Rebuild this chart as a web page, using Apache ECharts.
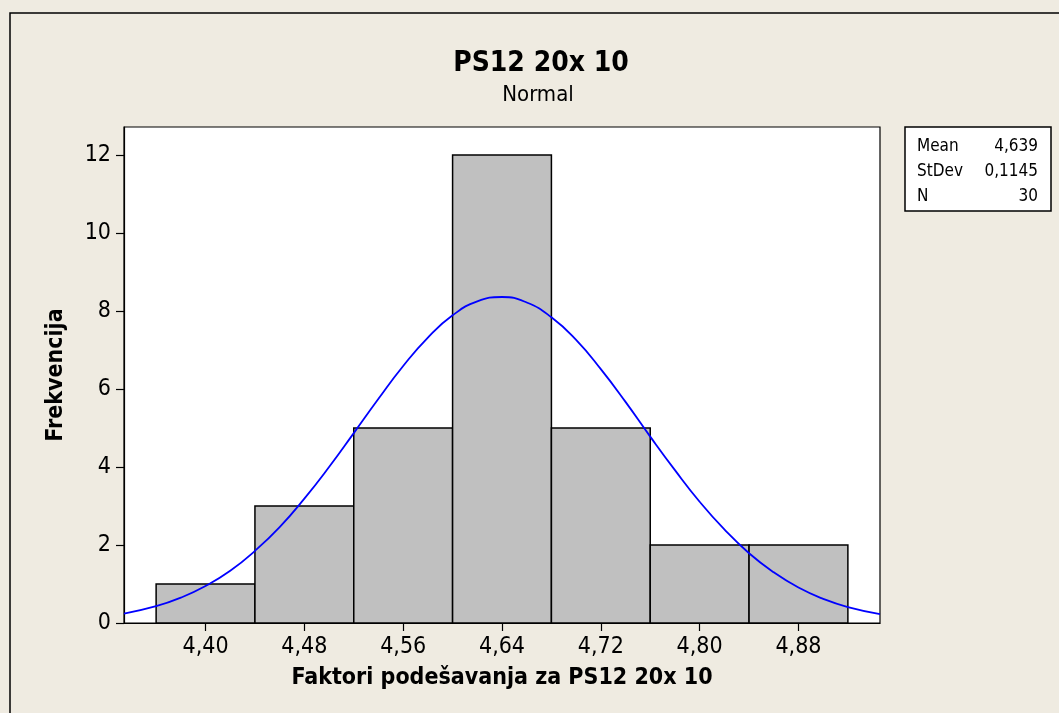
<!DOCTYPE html>
<html>
<head>
<meta charset="utf-8">
<script src="https://cdn.jsdelivr.net/npm/echarts@6/dist/echarts.min.js"></script>
<style>
  html, body { margin: 0; padding: 0; background: #efebe1; }
  #chart { width: 1059px; height: 713px; }
</style>
</head>
<body>
<div id="chart"></div>
<script>
// histogram bins (lower / upper edge) and frequencies
var binStart = [4.36, 4.44, 4.52, 4.60, 4.68, 4.76, 4.84]
var binEnd = [4.44, 4.52, 4.60, 4.68, 4.76, 4.84, 4.92]
var counts = [1, 3, 5, 12, 5, 2, 2]

// fitted normal curve
var curveX = [4.334, 4.36, 4.38, 4.40, 4.42, 4.44, 4.46, 4.48, 4.50, 4.52, 4.54, 4.56, 4.58, 4.60, 4.62, 4.64,
  4.66, 4.68, 4.70, 4.72, 4.74, 4.76, 4.78, 4.80, 4.82, 4.84, 4.86, 4.88, 4.90, 4.92, 4.946]
var curveY = [0.24, 0.43, 0.65, 0.95, 1.34, 1.85, 2.46, 3.19, 4.00, 4.87, 5.75, 6.59, 7.32, 7.89, 8.25, 8.36,
  8.22, 7.84, 7.26, 6.51, 5.67, 4.78, 3.92, 3.11, 2.40, 1.79, 1.30, 0.91, 0.62, 0.41, 0.23]

var xTicks = [4.40, 4.48, 4.56, 4.64, 4.72, 4.80, 4.88]
var yTicks = [0, 2, 4, 6, 8, 10, 12]

var statNames = ['Mean', 'StDev', 'N']
var statValues = ['4,639', '0,1145', '30']

var FONT = "'DejaVu Sans Condensed', 'Liberation Sans'"

var chart = echarts.init(document.getElementById('chart'))

var bars = []
for (var i = 0; i < counts.length; i++) {
  bars.push([binStart[i], binEnd[i], counts[i]])
}
var curve = []
for (var i = 0; i < curveX.length; i++) {
  curve.push([curveX[i], curveY[i]])
}

var statText = []
for (var i = 0; i < statNames.length; i++) {
  statText.push({
    type: 'text', x: 917, y: 147 + i * 25, z: 20,
    style: { text: statNames[i], font: '17px ' + FONT, fill: '#000', textAlign: 'left', align: 'left', textVerticalAlign: 'middle', verticalAlign: 'middle' },
  })
  statText.push({
    type: 'text', x: 1038, y: 147 + i * 25, z: 20,
    style: { text: statValues[i], font: '17px ' + FONT, fill: '#000', textAlign: 'right', align: 'right', textVerticalAlign: 'middle', verticalAlign: 'middle' },
  })
}

var option = {
  backgroundColor: '#efebe1',
  animation: false,
  grid: {
    left: 124,
    right: 179,
    top: 127,
    bottom: 90,
    show: true,
    backgroundColor: '#ffffff',
    borderColor: '#000000',
    borderWidth: 1.2,
  },
  xAxis: {
    type: 'value',
    min: 4.334,
    max: 4.946,
    name: 'Faktori podešavanja za PS12 20x 10',
    nameLocation: 'middle',
    nameGap: 44,
    nameTextStyle: { fontFamily: FONT, fontSize: 23, fontWeight: 'bold', color: '#000' },
    axisLine: { show: true, lineStyle: { color: '#000', width: 1.2 } },
    axisTick: { show: true, length: 8, customValues: xTicks, lineStyle: { color: '#000', width: 1.2 } },
    axisLabel: {
      customValues: xTicks,
      margin: 13,
      fontFamily: FONT,
      fontSize: 23,
      color: '#000',
      formatter: function (v) {
        return v.toFixed(2).replace('.', ',')
      },
    },
    splitLine: { show: false },
  },
  yAxis: {
    type: 'value',
    min: 0,
    max: 12.72,
    name: 'Frekvencija',
    nameLocation: 'middle',
    nameGap: 56,
    nameTextStyle: { fontFamily: FONT, fontSize: 23, fontWeight: 'bold', color: '#000' },
    axisLine: { show: true, lineStyle: { color: '#000', width: 1.2 } },
    axisTick: { show: true, length: 8, customValues: yTicks, lineStyle: { color: '#000', width: 1.2 } },
    axisLabel: {
      customValues: yTicks,
      margin: 13,
      fontFamily: FONT,
      fontSize: 23,
      color: '#000',
    },
    splitLine: { show: false },
  },
  graphic: [
    {
      type: 'rect', z: 10,
      shape: { x: 10, y: 13, width: 1100, height: 800 },
      style: { fill: 'none', stroke: '#000', lineWidth: 1.5 },
    },
    {
      type: 'text', x: 541, y: 64, z: 20,
      style: { text: 'PS12 20x 10', font: 'bold 28px ' + FONT, fill: '#000', textAlign: 'center', align: 'center', textVerticalAlign: 'middle', verticalAlign: 'middle' },
    },
    {
      type: 'text', x: 538, y: 95, z: 20,
      style: { text: 'Normal', font: '22px ' + FONT, fill: '#000', textAlign: 'center', align: 'center', textVerticalAlign: 'middle', verticalAlign: 'middle' },
    },
    {
      type: 'rect', z: 15,
      shape: { x: 905, y: 127, width: 146, height: 84 },
      style: { fill: '#ffffff', stroke: '#000', lineWidth: 1.5 },
    },
  ].concat(statText),
  series: [
    {
      type: 'custom',
      name: 'Frekvencija',
      encode: { x: [0, 1], y: 2 },
      renderItem: function (params, api) {
        var p0 = api.coord([api.value(0), api.value(2)])
        var p1 = api.coord([api.value(1), 0])
        return {
          type: 'rect',
          shape: { x: p0[0], y: p0[1], width: p1[0] - p0[0], height: p1[1] - p0[1] },
          style: { fill: '#c0c0c0', stroke: '#000', lineWidth: 1.5 },
        }
      },
      data: bars,
      z: 2,
    },
    {
      type: 'line',
      name: 'Normal',
      smooth: true,
      showSymbol: false,
      lineStyle: { color: '#0000ff', width: 1.8 },
      data: curve,
      z: 3,
    },
  ],
}
chart.setOption(option)
</script>
</body>
</html>
